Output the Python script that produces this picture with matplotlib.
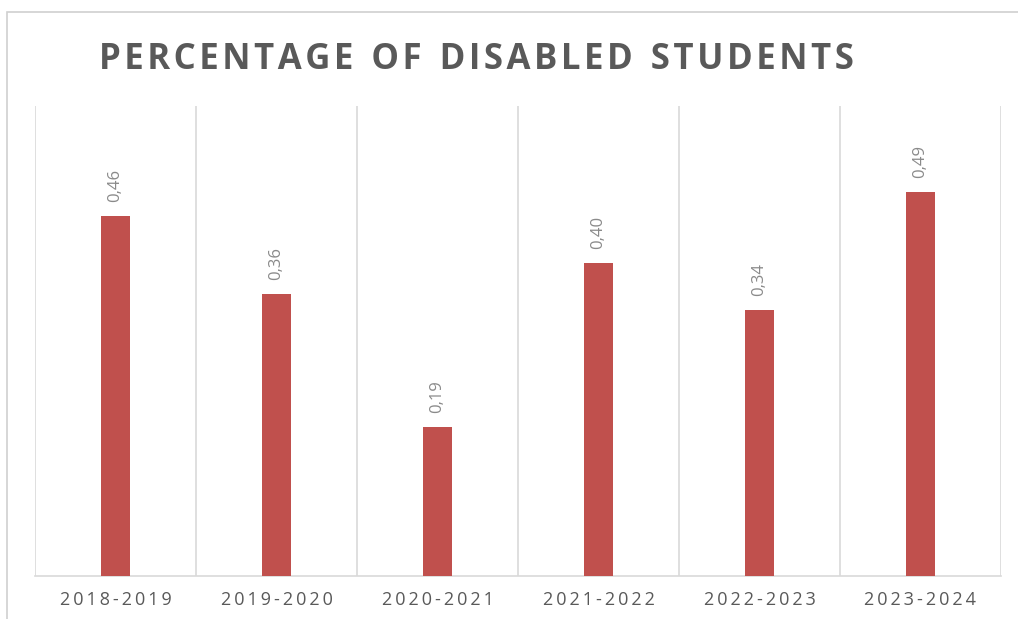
import numpy as np
import matplotlib.pyplot as plt
from matplotlib.patches import Rectangle

years = ["2018-2019", "2019-2020", "2020-2021", "2021-2022", "2022-2023", "2023-2024"]
share = [0.46, 0.36, 0.19, 0.40, 0.34, 0.49]

BAR = "#c0504d"
TEXT = "#595959"
GRID = "#d9d9d9"

plt.rcParams["font.family"] = ["Open Sans", "DejaVu Sans"]

fig = plt.figure(figsize=(10.18, 6.19), dpi=100)
W, H = 1018, 619

# outer chart frame
fig.patches.append(Rectangle((7 / W, -0.01), 1.0, (619 - 12) / H + 0.01,
                             transform=fig.transFigure, fill=False,
                             edgecolor="#d0d0d0", linewidth=1.2))

ax = fig.add_axes([35 / W, 43 / H, 966 / W, 470 / H])
x = np.arange(len(years))
ax.bar(x, share, width=0.18, color=BAR, zorder=3)

for xi, v in zip(x, share):
    ax.annotate(f"{v:.2f}".replace(".", ","), (xi, v), xytext=(0, 10),
                textcoords="offset points", rotation=90, ha="center", va="bottom",
                fontsize=12, color="#8a8a8a")

ax.set_xlim(-0.5, len(years) - 0.5)
ax.set_ylim(0, 0.6)
ax.set_xticks(x)
ax.set_xticklabels(["\u2009".join(y) for y in years], fontsize=13, color=TEXT)
ax.set_xticks(np.arange(len(years) + 1) - 0.5, minor=True)
ax.grid(axis="x", which="minor", color=GRID, linewidth=1.2, zorder=0)
ax.tick_params(axis="x", which="both", length=0, pad=11)
ax.set_yticks([])
for side in ["top", "right", "left"]:
    ax.spines[side].set_visible(False)
ax.spines["bottom"].set_color(GRID)
ax.spines["bottom"].set_linewidth(1.2)

title = "PERCENTAGE OF DISABLED STUDENTS"
spaced = "  ".join("\u200a".join(w) for w in title.split())
fig.text(476 / W, 1 - 60 / H, spaced, ha="center", va="center",
         fontsize=25, fontweight="bold", color=TEXT)

fig.savefig("out.png", dpi=100)
